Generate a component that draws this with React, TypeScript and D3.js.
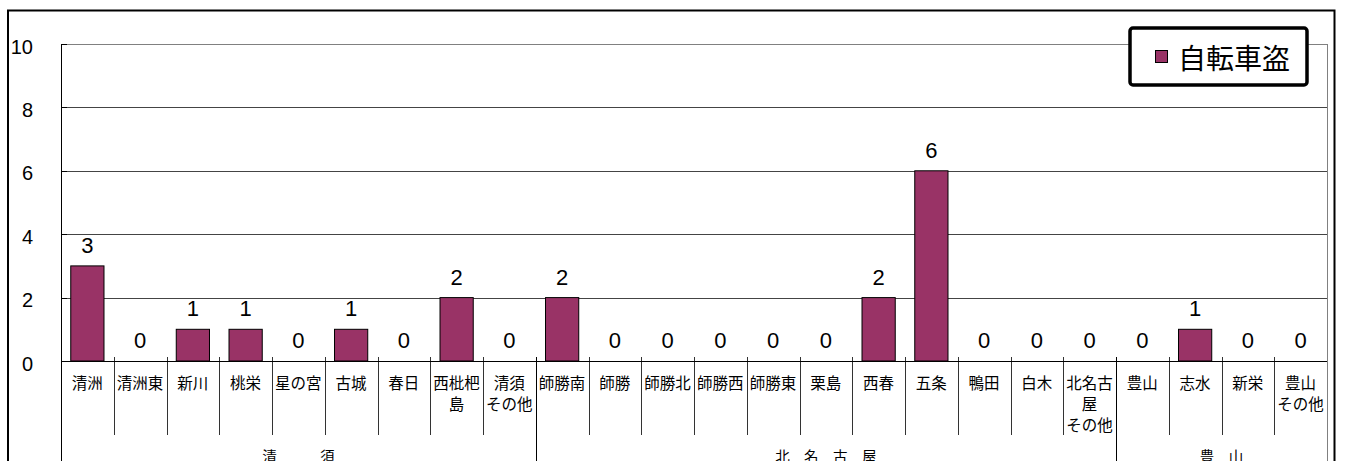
import React from "react";
import * as d3 from "d3";

const categories = [
  "清洲", "清洲東", "新川", "桃栄", "星の宮", "古城", "春日", "西枇杷島", "清須その他",
  "師勝南", "師勝", "師勝北", "師勝西", "師勝東", "栗島", "西春", "五条", "鴨田", "白木", "北名古屋その他",
  "豊山", "志水", "新栄", "豊山その他",
];
const categoryLines: string[][] = [
  ["清洲"], ["清洲東"], ["新川"], ["桃栄"], ["星の宮"], ["古城"], ["春日"], ["西枇杷", "島"], ["清須", "その他"],
  ["師勝南"], ["師勝"], ["師勝北"], ["師勝西"], ["師勝東"], ["栗島"], ["西春"], ["五条"], ["鴨田"], ["白木"], ["北名古", "屋", "その他"],
  ["豊山"], ["志水"], ["新栄"], ["豊山", "その他"],
];
const values = [3, 0, 1, 1, 0, 1, 0, 2, 0, 2, 0, 0, 0, 0, 0, 2, 6, 0, 0, 0, 0, 1, 0, 0];
const groupNames = ["清須", "北名古屋", "豊山"];
const groupLabels = ["清　　　須", "北　名　古　屋", "豊　山"];
const groupSizes = [9, 11, 4];
const yTicks = [0, 2, 4, 6, 8, 10];
const seriesName = "自転車盗";

const W = 1347;
const H = 461;
const plotLeft = 61;
const plotRight = 1327;
const plotTop = 44;
const plotBottom = 361;
const barColor = "#993366";
const jp = "'Noto Sans CJK JP', 'Noto Sans', sans-serif";
const num = "'Liberation Sans', Arial, sans-serif";

export default function App() {
  const x = d3
    .scaleBand<string>()
    .domain(categories)
    .range([plotLeft, plotRight])
    .paddingInner(0.37)
    .paddingOuter(0.185);
  const step = x.step();
  const slot = (i: number) => plotLeft + i * step;
  const y = d3.scaleLinear().domain([0, 10]).range([plotBottom, plotTop]);

  let acc = 0;
  const groups = groupSizes.map((n, gi) => {
    const start = acc;
    acc += n;
    return { name: groupNames[gi], label: groupLabels[gi], x0: slot(start), x1: slot(acc) };
  });

  return (
    <svg
      width={W}
      height={H}
      style={{ position: "absolute", left: 0, top: 0, background: "#fff" }}
    >
      <rect x={0} y={0} width={W} height={H} fill="#fff" />
      {/* outer frame */}
      <path d={`M8,${H} V10.5 H1334.5 V${H}`} fill="none" stroke="#000" strokeWidth={2} />

      {/* gridlines */}
      {yTicks.map((t) => (
        <line
          key={"g" + t}
          x1={plotLeft}
          x2={plotRight}
          y1={Math.round(y(t)) + 0.5}
          y2={Math.round(y(t)) + 0.5}
          stroke={t === 10 ? "#808080" : "#444"}
          strokeWidth={1}
        />
      ))}
      {/* left ticks */}
      {yTicks.map((t) => (
        <line
          key={"t" + t}
          x1={plotLeft}
          x2={plotLeft + 6}
          y1={Math.round(y(t)) + 0.5}
          y2={Math.round(y(t)) + 0.5}
          stroke="#000"
        />
      ))}
      {/* y labels */}
      {yTicks.map((t) => (
        <text
          key={"yl" + t}
          x={33}
          y={y(t) + 9.5}
          textAnchor="end"
          fontFamily={num}
          fontSize={20}
          fill="#000"
        >
          {t}
        </text>
      ))}

      {/* right border of plot area */}
      <line x1={plotRight + 0.5} x2={plotRight + 0.5} y1={plotTop} y2={H} stroke="#808080" />

      {/* category separators */}
      {categories.map((c, i) =>
        i === 0 ? null : (
          <line
            key={"s" + c}
            x1={Math.round(slot(i)) + 0.5}
            x2={Math.round(slot(i)) + 0.5}
            y1={plotBottom - 4}
            y2={435}
            stroke="#333"
          />
        )
      )}
      {/* group separators */}
      {groups.slice(0, -1).map((g) => (
        <line
          key={"gs" + g.name}
          x1={Math.round(g.x1) + 0.5}
          x2={Math.round(g.x1) + 0.5}
          y1={plotBottom - 4}
          y2={H}
          stroke="#000"
        />
      ))}

      {/* bars */}
      {categories.map((c, i) =>
        values[i] > 0 ? (
          <rect
            key={"b" + c}
            x={x(c)!}
            y={y(values[i])}
            width={x.bandwidth()}
            height={y(0) - y(values[i])}
            fill={barColor}
            stroke="#000"
            strokeWidth={1}
          />
        ) : null
      )}

      {/* x axis & left axis */}
      <line x1={plotLeft} x2={plotRight} y1={plotBottom + 0.5} y2={plotBottom + 0.5} stroke="#000" />
      <line x1={plotLeft + 0.5} x2={plotLeft + 0.5} y1={plotTop} y2={H} stroke="#000" />

      {/* data labels */}
      {categories.map((c, i) => (
        <text
          key={"dl" + c}
          x={x(c)! + x.bandwidth() / 2}
          y={y(values[i]) - 13}
          textAnchor="middle"
          fontFamily={num}
          fontSize={22}
          fill="#000"
        >
          {values[i]}
        </text>
      ))}

      {/* category labels */}
      {categories.map((c, i) => (
        <text
          key={"cl" + c}
          textAnchor="middle"
          fontFamily={jp}
          fontSize={15.5}
          fill="#000"
        >
          {categoryLines[i].map((ln, k) => (
            <tspan key={k} x={slot(i) + step / 2} y={389 + k * 21}>
              {ln}
            </tspan>
          ))}
        </text>
      ))}

      {/* group labels */}
      {groups.map((g) => (
        <text
          key={"gl" + g.name}
          x={(g.x0 + g.x1) / 2}
          y={462}
          textAnchor="middle"
          fontFamily={jp}
          fontSize={14.5}
          fill="#000"
          style={{ whiteSpace: "pre" }}
        >
          {g.label}
        </text>
      ))}

      {/* legend */}
      <rect x={1130} y={28} width={177} height={57} rx={3} fill="#fff" stroke="#000" strokeWidth={3.5} />
      <rect x={1155.5} y={50.5} width={12} height={12} fill={barColor} stroke="#000" strokeWidth={1} />
      <text x={1178} y={57} dominantBaseline="central" fontFamily={jp} fontSize={28} fill="#000">
        {seriesName}
      </text>
    </svg>
  );
}
